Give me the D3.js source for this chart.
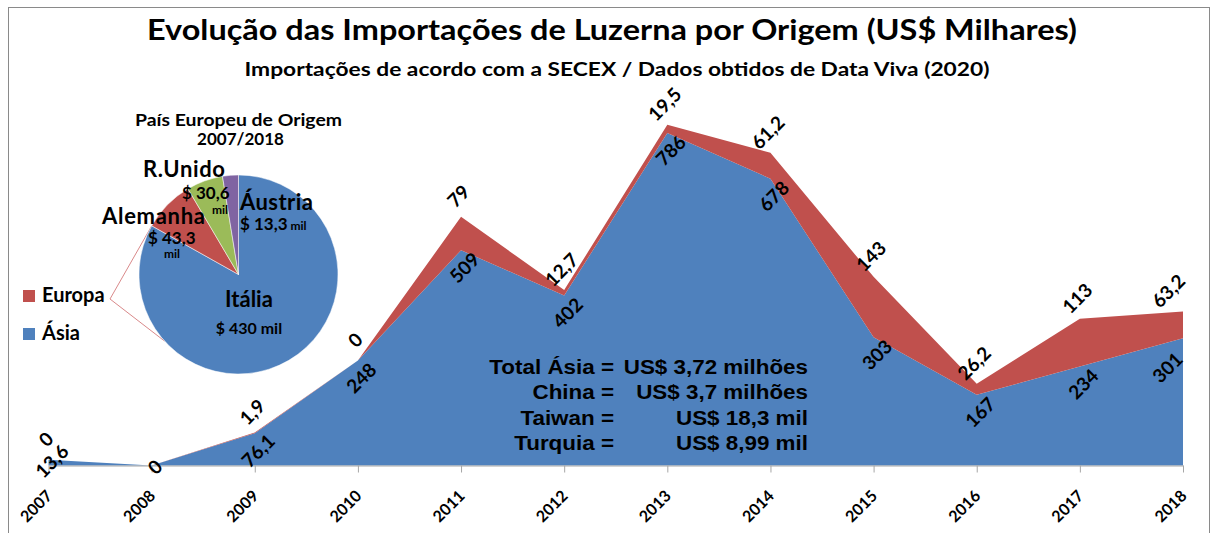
<!DOCTYPE html>
<html>
<head>
<meta charset="utf-8">
<script src="https://cdn.jsdelivr.net/npm/d3@7"></script>
<style>
  body { margin: 0; background: #fff; }
  svg { display: block; }
</style>
</head>
<body>
<svg id="chart"></svg>
<script>
const width = 1212;
const height = 533;

// Série principal (US$ milhares)
const years = ['2007', '2008', '2009', '2010', '2011', '2012', '2013', '2014', '2015', '2016', '2017', '2018'];
const asia = [13.6, 0, 76.1, 248, 509, 402, 786, 678, 303, 167, 234, 301];
const europa = [0, 0, 1.9, 0, 79, 12.7, 19.5, 61.2, 143, 26.2, 113, 63.2];

// Pizza dos países europeus
const paises = ['Itália', 'Alemanha', 'R.Unido', 'Áustria'];
const paisesValores = [430, 43.3, 30.6, 13.3];

// Caixa de totais da Ásia
const asiaNomes = ['Total Ásia =', 'China =', 'Taiwan =', 'Turquia ='];
const asiaTotais = ['US$ 3,72 milhões', 'US$ 3,7 milhões', 'US$ 18,3 mil', 'US$ 8,99 mil'];

const yTicks = [0, 900];

const blue = '#4F81BD', red = '#C0504D', green = '#9BBB59', purple = '#8064A2';
const calibri = 'Lato, "Open Sans", sans-serif';
const arial = '"Liberation Sans", Arial, sans-serif';
const fmt = v => String(v).replace('.', ',');

const svg = d3.select('#chart').attr('width', width).attr('height', height);

svg.append('rect').attr('width', width).attr('height', height).attr('fill', '#fff');
// moldura do gráfico
svg.append('rect')
    .attr('x', 8.5).attr('y', 7.5)
    .attr('width', 1201).attr('height', 540)
    .attr('fill', 'none')
    .attr('stroke', '#8a8a8a');

// helper for text
function label(parent, txt, px, py, size, opts = {}) {
    return parent.append('text')
        .attr('x', px).attr('y', py)
        .attr('text-anchor', opts.anchor || 'start')
        .style('font-family', opts.font || calibri)
        .style('font-size', size + 'px')
        .style('font-weight', opts.weight || 'bold')
        .style('fill', '#000')
        .text(txt);
}

// Títulos
label(svg, 'Evolução das Importações de Luzerna por Origem (US$ Milhares)', 612, 40, 29, { anchor: 'middle' })
    .attr('textLength', 930).attr('lengthAdjust', 'spacingAndGlyphs');
label(svg, 'Importações de acordo com a SECEX / Dados obtidos de Data Viva (2020)', 617, 76, 18, { anchor: 'middle' })
    .attr('textLength', 745).attr('lengthAdjust', 'spacingAndGlyphs');

// Escalas
const x = d3.scalePoint().domain(years).range([48.5, 1183]);
const y = d3.scaleLinear().domain(d3.extent(yTicks)).range([465.5, 84.8]);

const table = years.map((yr, i) => ({ year: yr, asia: asia[i], europa: europa[i] }));
const series = d3.stack().keys(['asia', 'europa'])(table);

const area = d3.area()
    .x(d => x(d.data.year))
    .y0(d => y(d[0]))
    .y1(d => y(d[1]));

svg.append('g')
    .selectAll('path')
    .data(series)
    .enter().append('path')
    .attr('d', area)
    .attr('fill', d => d.key === 'asia' ? blue : red);

// Eixo X
const xAxis = svg.append('g')
    .attr('transform', `translate(0,${y(0)})`)
    .call(d3.axisBottom(x).tickSize(7).tickSizeOuter(0).tickFormat(''));
xAxis.select('.domain').attr('stroke', '#a6a6a6');
xAxis.selectAll('line').attr('stroke', '#a6a6a6');

// Rótulos de dados
const labels = svg.append('g');

labels.selectAll('.lbl-asia')
    .data(table)
    .enter().append('text')
    .attr('class', 'lbl-asia')
    .attr('text-anchor', 'middle')
    .attr('dominant-baseline', 'central')
    .attr('transform', (d, i) => {
        const px = x(d.year), py = y(d.asia);
        const isLast = i === table.length - 1;
        const lx = isLast ? px - 16 : px + 3;
        const ly = py + (d.asia < 20 ? 1 : isLast ? 29 : 17);
        return `translate(${lx},${ly}) rotate(-45)`;
    })
    .style('font-family', calibri).style('font-size', '19px').style('font-weight', 'bold')
    .text(d => fmt(d.asia));

labels.selectAll('.lbl-eu')
    .data(table.filter(d => d.asia + d.europa > 0))
    .enter().append('text')
    .attr('class', 'lbl-eu')
    .attr('text-anchor', 'middle')
    .attr('dominant-baseline', 'central')
    .attr('transform', d => {
        const px = x(d.year), py = y(d.asia + d.europa);
        const isLast = d.year === years[years.length - 1];
        const lx = isLast ? px - 15 : px - 3;
        return `translate(${lx},${py - 21}) rotate(-45)`;
    })
    .style('font-family', calibri).style('font-size', '19px').style('font-weight', 'bold')
    .text(d => fmt(d.europa));

// rótulos dos anos, girados 45° (mesmo esquema dos rótulos de dados)
labels.selectAll('.lbl-year')
    .data(table)
    .enter().append('text')
    .attr('class', 'lbl-year')
    .attr('text-anchor', 'middle')
    .attr('dominant-baseline', 'central')
    .attr('transform', d => `translate(${x(d.year) - 13},${y(0) + 40}) rotate(-45)`)
    .style('font-family', calibri).style('font-size', '16px').style('font-weight', 'bold')
    .text(d => d.year);

// Caixa de totais da Ásia (texto um pouco mais largo que Arial)
const box = svg.append('g');
asiaNomes.forEach((n, i) => {
    [[n, 614], [asiaTotais[i], 808]].forEach(([t, tx]) => {
        const el = label(box, t, tx, 374 + i * 25.4, 20, { anchor: 'end', font: arial });
        el.attr('textLength', el.node().getComputedTextLength() * 1.12)
            .attr('lengthAdjust', 'spacingAndGlyphs');
    });
});

// Pizza
const cx = 238.5, cy = 274.5, r = 99.5;
const pie = d3.pie().sort(null).value(d => d)(paisesValores);
const arc = d3.arc().innerRadius(0).outerRadius(r);
const pieColors = [blue, red, green, purple];

const pg = svg.append('g').attr('transform', `translate(${cx},${cy})`);

// linhas ligando a legenda Europa à pizza
const a0 = pie[1].startAngle;
const a1 = 228 * Math.PI / 180;
const lp = [110 - cx, 299 - cy];
pg.append('path')
    .attr('d', `M${r * Math.sin(a0)},${-r * Math.cos(a0)} L${lp[0]},${lp[1]} L${r * Math.sin(a1)},${-r * Math.cos(a1)}`)
    .attr('fill', 'none')
    .attr('stroke', '#d9898a')
    .attr('stroke-width', 1);

pg.selectAll('path.slice')
    .data(pie)
    .enter().append('path')
    .attr('class', 'slice')
    .attr('d', arc)
    .attr('fill', (d, i) => pieColors[i])
    .attr('stroke', '#fff')
    .attr('stroke-width', 0.5);

// título da pizza
label(svg, 'País Europeu de Origem', cx, 126, 17, { anchor: 'middle' })
    .attr('textLength', 207).attr('lengthAdjust', 'spacingAndGlyphs');
label(svg, '2007/2018', cx + 2, 145, 17, { anchor: 'middle' });

// rótulos da pizza
const pl = svg.append('g');
label(pl, paises[2], 143, 177, 22).attr('textLength', 82);
label(pl, '$ ' + fmt(paisesValores[2]), 182, 199, 17);
label(pl, 'mil', 212, 214, 12);
label(pl, paises[1], 102, 224, 22).attr('textLength', 103);
label(pl, '$ ' + fmt(paisesValores[1]), 148, 244, 17);
label(pl, 'mil', 164, 258, 12);
label(pl, paises[3], 240, 210, 22).attr('textLength', 73);
const at = label(pl, '$ ' + fmt(paisesValores[3]), 240, 230, 17);
at.append('tspan').style('font-size', '12px').text(' mil');
label(pl, paises[0], 249, 307, 22, { anchor: 'middle' });
label(pl, '$ ' + fmt(paisesValores[0]) + ' mil', 249, 334, 16, { anchor: 'middle' });

// Legenda
const legend = svg.append('g');
[['Europa', red, 290], ['Ásia', blue, 328]].forEach(([name, col, ly]) => {
    legend.append('rect').attr('x', 23).attr('y', ly).attr('width', 12).attr('height', 12).attr('fill', col);
    label(legend, name, 42, ly + 12, 20);
});
</script>
</body>
</html>
